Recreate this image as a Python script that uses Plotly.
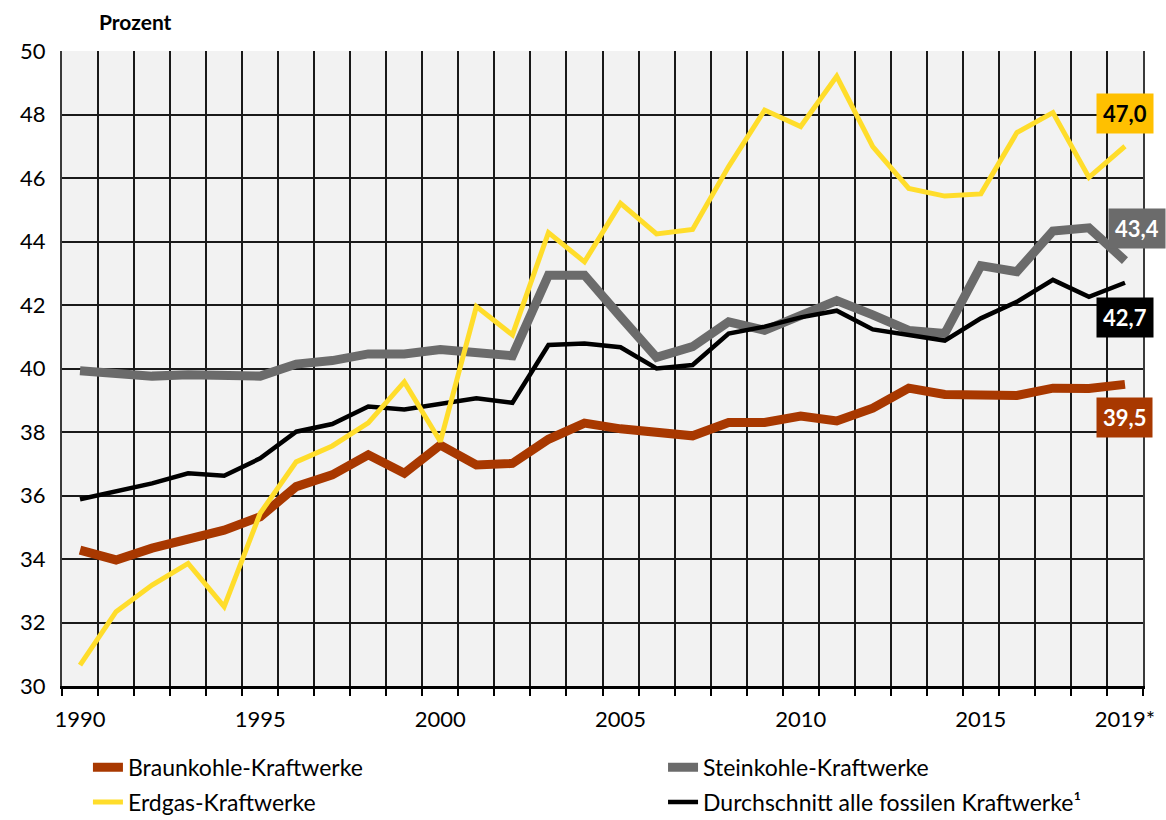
import plotly.graph_objects as go

years = list(range(1990, 2020))
braunkohle = [34.28, 33.97, 34.34, 34.62, 34.91, 35.33, 36.28, 36.65, 37.28, 36.70,
              37.59, 36.96, 37.01, 37.77, 38.28, 38.10, 38.00, 37.88, 38.30, 38.30,
              38.50, 38.35, 38.75, 39.38, 39.18, 39.15, 39.15, 39.38, 39.37, 39.50]
steinkohle = [39.93, 39.85, 39.76, 39.80, 39.80, 39.76, 40.14, 40.25, 40.46, 40.46,
              40.60, 40.50, 40.40, 42.94, 42.94, 41.63, 40.35, 40.69, 41.47, 41.20,
              41.70, 42.14, 41.69, 41.20, 41.10, 43.24, 43.05, 44.33, 44.43, 43.40]
erdgas = [30.66, 32.34, 33.18, 33.86, 32.50, 35.44, 37.06, 37.56, 38.29, 39.58,
          37.70, 41.95, 41.06, 44.28, 43.36, 45.20, 44.24, 44.38, 46.36, 48.14,
          47.62, 49.20, 46.99, 45.67, 45.43, 45.50, 47.43, 48.06, 46.02, 47.00]
durchschnitt = [35.88, 36.12, 36.38, 36.70, 36.62, 37.17, 38.01, 38.25, 38.80, 38.71,
                38.88, 39.06, 38.92, 40.74, 40.79, 40.67, 40.00, 40.11, 41.10, 41.32,
                41.61, 41.82, 41.23, 41.06, 40.88, 41.58, 42.10, 42.79, 42.26, 42.70]

tick_years = [1990, 1995, 2000, 2005, 2010, 2015, 2019]
tick_labels = ["1990", "1995", "2000", "2005", "2010", "2015", "2019*"]

names = ["Braunkohle-Kraftwerke", "Steinkohle-Kraftwerke",
         "Erdgas-Kraftwerke", "Durchschnitt alle fossilen Kraftwerke\u00b9"]

FONT = "Lato"
RED = "#A83800"
GREY = "#6B6B6B"
YELLOW = "#FFDD2B"
GOLD = "#FFC000"
BLACK = "#000000"

fig = go.Figure()
# draw order: red, grey, black, yellow
fig.add_trace(go.Scatter(x=years, y=braunkohle, mode="lines", name=names[0],
                         line=dict(color=RED, width=9), legend="legend",
                         legendgroup="a"))
fig.add_trace(go.Scatter(x=years, y=steinkohle, mode="lines", name=names[1],
                         line=dict(color=GREY, width=9), legend="legend2",
                         legendgroup="b"))
fig.add_trace(go.Scatter(x=years, y=durchschnitt, mode="lines", name=names[3],
                         line=dict(color=BLACK, width=4.5), legend="legend2",
                         legendgroup="d"))
fig.add_trace(go.Scatter(x=years, y=erdgas, mode="lines", name=names[2],
                         line=dict(color=YELLOW, width=5), legend="legend",
                         legendgroup="c"))

def fmt(v):
    return f"{v:.1f}".replace(".", ",")

labels = [
    (erdgas[-1], GOLD, "#000000", -33, 0),
    (steinkohle[-1], GREY, "#FFFFFF", -32, 12),
    (durchschnitt[-1], BLACK, "#FFFFFF", 35, 0),
    (braunkohle[-1], RED, "#FFFFFF", 33, 0),
]
for val, bg, fc, ys, xs in labels:
    fig.add_annotation(x=years[-1], y=val, text=f"<b>{fmt(val)}</b>",
                       showarrow=False, bgcolor=bg, borderpad=6,
                       font=dict(family=FONT, size=22, color=fc),
                       yshift=-ys, xshift=xs)

fig.add_annotation(xref="paper", yref="paper", x=0.032, y=1.046,
                   xanchor="left", yanchor="middle", showarrow=False,
                   text="<b>Prozent</b>",
                   font=dict(family=FONT, size=21, color="#000000"))

legend_common = dict(orientation="v", bgcolor="rgba(0,0,0,0)",
                     font=dict(family=FONT, size=23, color="#000000"),
                     tracegroupgap=2, yanchor="top", xanchor="left",
                     itemclick=False, itemdoubleclick=False)

fig.update_layout(
    width=1166, height=820,
    margin=dict(l=62, r=23, t=51, b=134, autoexpand=False),
    paper_bgcolor="white",
    plot_bgcolor="#F2F2F2",
    font=dict(family=FONT, size=22, color="#000000"),
    showlegend=True,
    legend=dict(**legend_common, x=0.024, y=-0.094),
    legend2=dict(**legend_common, x=0.556, y=-0.094),
    xaxis=dict(
        range=[1989.5, 2019.5],
        tickmode="array", tickvals=tick_years, ticktext=tick_labels,
        showgrid=False, ticks="", zeroline=False,
        showline=True, linecolor="#000000", linewidth=3, mirror=False,
        ticklabelstandoff=12,
        tickfont=dict(family=FONT, size=22),
        minor=dict(tickmode="linear", tick0=1989.5, dtick=1, showgrid=True,
                   gridcolor="#1a1a1a", gridwidth=1.5, ticks="outside",
                   ticklen=7, tickcolor="#000000", tickwidth=2),
    ),
    yaxis=dict(
        range=[30, 50], dtick=2, tick0=30,
        showgrid=True, gridcolor="#1a1a1a", gridwidth=1.5,
        zeroline=False, ticks="",
        showline=True, linecolor="#3a3a3a", linewidth=2, mirror=True,
        ticklabelstandoff=10,
        tickfont=dict(family=FONT, size=22),
    ),
)

fig.write_html("out.html")
